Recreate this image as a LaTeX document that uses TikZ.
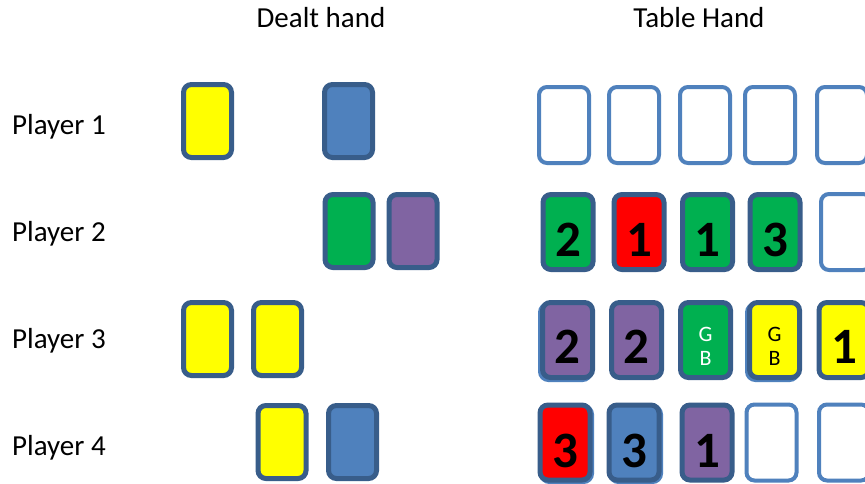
\documentclass[tikz,border=0pt]{standalone}
\usepackage{fontspec}
\setmainfont{Carlito}
\definecolor{cyel}{HTML}{FFFF00}
\definecolor{cblue}{HTML}{4F81BD}
\definecolor{cgreen}{HTML}{00B050}
\definecolor{cpurple}{HTML}{8064A2}
\definecolor{cred}{HTML}{FF0000}
\definecolor{cline}{HTML}{385D8A}
\tikzset{
  card/.style={draw=cline, line width=5pt, rounded corners=8pt, minimum width=48pt, minimum height=73pt, inner sep=0pt},
  tcard/.style={card, minimum width=50pt, minimum height=75pt},
  empty/.style={draw=cblue, fill=white, line width=4pt, rounded corners=8pt, minimum width=50pt, minimum height=76pt, inner sep=0pt},
  digit/.style={font=\fontsize{51}{55}\selectfont\bfseries, inner sep=0pt},
  gb/.style={font=\fontsize{22}{24}\selectfont, align=center, inner sep=0pt},
  lab/.style={font=\fontsize{29}{34}\selectfont, inner sep=0pt, anchor=base west},
  head/.style={font=\fontsize{29}{34}\selectfont, inner sep=0pt, anchor=base}
}
\begin{document}
\begin{tikzpicture}[x=1pt, y=-1pt]
\clip (0,0) rectangle (865,483);
\fill[white] (0,0) rectangle (865,483);
% headings
\node[head] (hdealt) at (321,27) {Dealt hand};
\node[head] (htable) at (699,27) {Table Hand};
% player labels
\node[lab] (p1) at (12,134) {Player 1};
\node[lab] (p2) at (12,241) {Player 2};
\node[lab] (p3) at (12,348) {Player 3};
\node[lab] (p4) at (12,455) {Player 4};
% dealt hand
\node[card, fill=cyel] (d11) at (207.5,121) {};
\node[card, fill=cblue] (d12) at (348.5,121) {};
\node[card, fill=cgreen] (d21) at (349,231) {};
\node[card, fill=cpurple] (d22) at (413,231) {};
\node[card, fill=cyel] (d31) at (207.5,339) {};
\node[card, fill=cyel] (d32) at (277.5,339) {};
\node[card, fill=cyel] (d41) at (282,442) {};
\node[card, fill=cblue] (d42) at (352.5,442) {};
% table row 1
\node[empty] (t11) at (564,125) {};
\node[empty] (t12) at (634,125) {};
\node[empty] (t13) at (705,125) {};
\node[empty] (t14) at (770,125) {};
\node[empty] (t15) at (842,125) {};
% table row 2
\node[tcard, fill=cgreen] (t21) at (568,232) {};
\node[tcard, fill=cred] (t22) at (639,232) {};
\node[tcard, fill=cgreen] (t23) at (707.5,232) {};
\node[tcard, fill=cgreen] (t24) at (775,232) {};
\node[empty] (t25) at (846,232) {};
\node[digit] (n21) at ([yshift=-8pt]t21.center) {2};
\node[digit] (n22) at ([yshift=-8pt]t22.center) {1};
\node[digit] (n23) at ([yshift=-8pt]t23.center) {1};
\node[digit] (n24) at ([yshift=-8pt]t24.center) {3};
% table row 3
\node[tcard, draw=cblue, fill=cblue] (s31) at (565.5,342) {};
\node[tcard, draw=cblue, fill=cblue] (s34) at (772.5,342) {};
\node[tcard, fill=cpurple] (t31) at (567.5,340) {};
\node[tcard, fill=cpurple] (t32) at (636.5,340) {};
\node[tcard, fill=cgreen] (t33) at (705.5,340) {};
\node[tcard, fill=cyel] (t34) at (774.5,340) {};
\node[tcard, fill=cyel] (t35) at (844,340) {};
\node[digit] (n31) at ([yshift=-7pt]t31.center) {2};
\node[digit] (n32) at ([yshift=-7pt]t32.center) {2};
\node[gb, text=white] (n33) at ([yshift=-6pt]t33.center) {G\\B};
\node[gb, text=black] (n34) at ([yshift=-6pt]t34.center) {G\\B};
\node[digit] (n35) at ([yshift=-7pt]t35.center) {1};
% table row 4
\node[tcard, draw=cblue, fill=cblue] (s41) at (566.5,444) {};
\node[tcard, draw=cblue, fill=cblue] (s42) at (635.5,444) {};
\node[tcard, fill=cred] (t41) at (565,442.5) {};
\node[tcard, fill=cblue] (t42) at (634,442.5) {};
\node[tcard, fill=cpurple] (t43) at (707,442.5) {};
\node[empty] (t44) at (771.5,442.5) {};
\node[empty] (t45) at (844,442.5) {};
\node[digit] (n41) at ([yshift=-8pt]t41.center) {3};
\node[digit] (n42) at ([yshift=-8pt]t42.center) {3};
\node[digit] (n43) at ([yshift=-8pt]t43.center) {1};
\end{tikzpicture}
\end{document}
